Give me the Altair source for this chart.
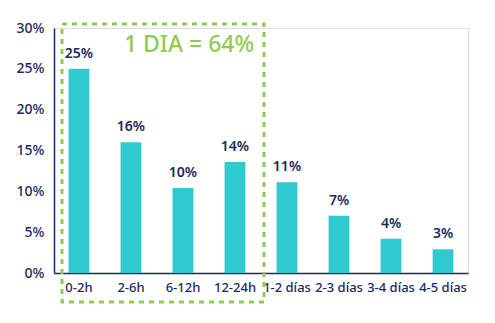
import altair as alt
import pandas as pd

categories = ["0-2h", "2-6h", "6-12h", "12-24h", "1-2 días", "2-3 días", "3-4 días", "4-5 días"]
values = [25.0, 16.0, 10.4, 13.6, 11.1, 7.0, 4.2, 2.9]
labels = ["25%", "16%", "10%", "14%", "11%", "7%", "4%", "3%"]
y_ticks = [0, 5, 10, 15, 20, 25, 30]
box_text = "1 DIA = 64%"

NAVY = "#1b2a5e"
TEAL = "#2ecad0"
GREEN = "#8fcb4e"
FONT = "Noto Sans"

df = pd.DataFrame({"cat": categories, "val": values, "lab": labels})

x = alt.X("cat:N", sort=categories, title=None,
          scale=alt.Scale(paddingInner=0.6, paddingOuter=0.28),
          axis=alt.Axis(labelAngle=0, ticks=False, domainColor=NAVY, domainWidth=1.5,
                        labelColor=NAVY, labelFont=FONT, labelFontSize=13,
                        labelFontWeight=500, labelPadding=8))
y = alt.Y("val:Q", title=None,
          scale=alt.Scale(domain=[0, 30], nice=False),
          axis=alt.Axis(values=y_ticks, grid=False, ticks=False, domainColor=NAVY,
                        domainWidth=1.5, labelColor=NAVY, labelFont=FONT,
                        labelFontSize=14, labelFontWeight=500, labelPadding=10,
                        labelExpr="datum.value + '%'"))

base = alt.Chart(df)
bars = base.mark_bar(color=TEAL).encode(x=x, y=y)
text = base.mark_text(baseline="bottom", dy=-8, color=NAVY, font=FONT,
                      fontSize=14, fontWeight=600).encode(x=x, y=y, text="lab:N")

box = alt.Chart(pd.DataFrame({"a": [0]})).mark_rect(
    fill=None, stroke=GREEN, strokeWidth=3, strokeDash=[5, 5], clip=False
).encode(x=alt.value(8), x2=alt.value(210), y=alt.value(-4), y2=alt.value(274))

title = alt.Chart(pd.DataFrame({"t": [box_text]})).mark_text(
    color=GREEN, font=FONT, fontSize=23, fontWeight=500, align="center", baseline="middle"
).encode(x=alt.value(135), y=alt.value(17), text="t:N")

chart = alt.layer(box, bars, text, title).properties(
    width=414, height=245,
    autosize=alt.AutoSizeParams(type="none"),
    padding={"left": 54, "top": 28, "right": 27, "bottom": 50},
).configure_view(stroke=None).configure(background="white")

chart.save("out.html", embed_options={"renderer": "svg", "actions": False})
